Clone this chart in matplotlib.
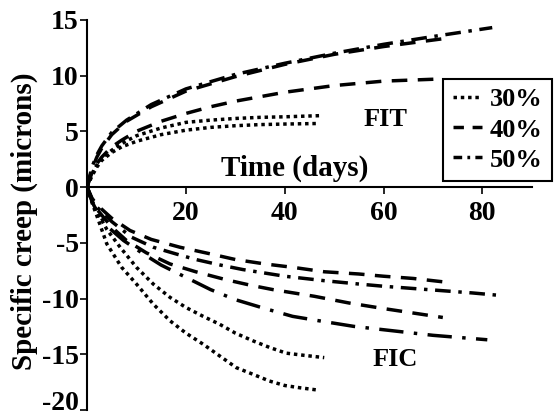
import matplotlib
matplotlib.use('Agg')
import matplotlib.pyplot as plt
from matplotlib.lines import Line2D

plt.rcParams['font.family'] = ['Liberation Serif', 'DejaVu Serif']
plt.rcParams['font.weight'] = 'bold'
plt.rcParams['axes.unicode_minus'] = False

# FIT (tension) curves
fit_30a_days = [0, 1, 2, 3, 5, 7, 10, 15, 20, 25, 30, 35, 40, 47]
fit_30a_vals = [0, 1.2, 2.0, 2.6, 3.3, 3.9, 4.6, 5.3, 5.8, 6.0, 6.15, 6.25, 6.3, 6.4]
fit_30b_days = [0, 1, 2, 3, 5, 7, 10, 15, 20, 25, 30, 35, 40, 47]
fit_30b_vals = [0, 1.0, 1.8, 2.4, 3.1, 3.6, 4.1, 4.7, 5.1, 5.35, 5.5, 5.6, 5.65, 5.7]
fit_40a_days = [0, 1, 2, 3, 5, 8, 13, 20, 30, 40, 50, 60, 72]
fit_40a_vals = [0, 1.6, 2.7, 3.5, 4.7, 5.9, 7.2, 8.6, 9.9, 11.0, 11.9, 12.6, 13.3]
fit_40b_days = [0, 1, 2, 3, 5, 7, 10, 15, 20, 25, 30, 40, 50, 60, 72]
fit_40b_vals = [0, 1.3, 2.1, 2.7, 3.6, 4.2, 5.0, 5.9, 6.6, 7.2, 7.7, 8.5, 9.1, 9.5, 9.7]
fit_50_days = [0, 1, 2, 3, 5, 8, 13, 20, 30, 40, 50, 60, 70, 82]
fit_50_vals = [0, 1.8, 2.9, 3.7, 4.9, 6.0, 7.4, 8.8, 10.1, 11.1, 12.0, 12.8, 13.5, 14.3]

# FIC (compression) curves
fic_30a_days = [0, 1, 2, 4, 6.7, 10, 13.4, 16.8, 20, 23.5, 26.8, 30, 33.6, 37, 40.3, 44, 48]
fic_30a_vals = [0, -1.2, -2.2, -3.8, -5.4, -7.2, -8.7, -9.9, -10.8, -11.6, -12.3, -13.1, -13.8, -14.4, -14.9, -15.1, -15.3]
fic_30b_days = [0, 1, 2, 4, 7, 10, 13.4, 16.8, 20, 23.5, 27, 30.2, 33.6, 36.9, 40, 43, 46.5]
fic_30b_vals = [0, -1.4, -2.6, -5.1, -7.2, -8.7, -10.5, -12.0, -13.1, -14.1, -15.2, -16.2, -16.8, -17.4, -17.8, -18.0, -18.2]
fic_40a_days = [0, 1, 2, 5, 8.7, 13, 18.8, 25, 30, 36, 41.6, 48, 55, 60, 66, 72]
fic_40a_vals = [0, -1.0, -1.6, -2.8, -3.9, -4.7, -5.4, -6.0, -6.5, -6.9, -7.2, -7.6, -7.8, -8.0, -8.2, -8.5]
fic_40b_days = [0, 1, 2, 5, 8, 12, 16.8, 22, 28, 33, 37.6, 46, 53, 60, 66, 72]
fic_40b_vals = [0, -1.2, -2.0, -3.6, -4.8, -5.9, -6.9, -7.6, -8.3, -8.8, -9.2, -9.8, -10.4, -10.9, -11.3, -11.7]
fic_50a_days = [0, 1, 2, 5, 9, 13.4, 18, 22, 27, 31.5, 40, 48, 55, 60, 66, 72, 78, 83]
fic_50a_vals = [0, -1.1, -1.8, -3.1, -4.5, -5.4, -6.0, -6.5, -7.0, -7.4, -8.0, -8.4, -8.7, -8.9, -9.1, -9.3, -9.5, -9.7]
fic_50b_days = [0, 1, 2, 4, 7.4, 11.4, 15, 20, 25, 30, 36, 41.6, 47, 54, 60, 70, 81]
fic_50b_vals = [0, -1.3, -2.2, -3.5, -4.8, -6.0, -7.0, -8.1, -9.2, -10.1, -10.9, -11.6, -12.0, -12.5, -12.8, -13.3, -13.7]

legend_labels = ['30%', '40%', '50%']

DOT = (0, (1, 1.1))
DASH = (0, (4.5, 3))
DASHDOT = (0, (4.5, 2.2, 1, 2.2))
LONGDASHDOT = (0, (7, 3, 1, 3))
LW = 2.5

fig = plt.figure(figsize=(5.58, 4.16), dpi=100)
ax = fig.add_axes([0.156, 0.0144, 0.797, 0.938])

ax.plot(fit_30a_days, fit_30a_vals, color='k', lw=LW, ls=DOT)
ax.plot(fit_30b_days, fit_30b_vals, color='k', lw=LW, ls=DOT)
ax.plot(fit_40a_days, fit_40a_vals, color='k', lw=LW, ls=DASH)
ax.plot(fit_40b_days, fit_40b_vals, color='k', lw=LW, ls=DASH)
ax.plot(fit_50_days, fit_50_vals, color='k', lw=LW, ls=DASHDOT)

ax.plot(fic_30a_days, fic_30a_vals, color='k', lw=LW, ls=DOT)
ax.plot(fic_30b_days, fic_30b_vals, color='k', lw=LW, ls=DOT)
ax.plot(fic_40a_days, fic_40a_vals, color='k', lw=LW, ls=DASH)
ax.plot(fic_40b_days, fic_40b_vals, color='k', lw=LW, ls=DASH)
ax.plot(fic_50a_days, fic_50a_vals, color='k', lw=LW, ls=DASHDOT)
ax.plot(fic_50b_days, fic_50b_vals, color='k', lw=LW, ls=LONGDASHDOT)

ax.set_xlim(0, 90)
ax.set_ylim(-20, 15)
ax.spines['left'].set_position(('data', 0))
ax.spines['bottom'].set_position(('data', 0))
ax.spines['top'].set_visible(False)
ax.spines['right'].set_visible(False)
for s in ('left', 'bottom'):
    ax.spines[s].set_linewidth(1.5)

ax.set_xticks([20, 40, 60, 80])
ax.set_yticks([-20, -15, -10, -5, 0, 5, 10, 15])
ax.tick_params(axis='both', direction='out', length=5, width=1.2, labelsize=20)
ax.tick_params(axis='x', pad=5)
ax.tick_params(axis='y', pad=1)
for lbl in ax.get_xticklabels() + ax.get_yticklabels():
    lbl.set_fontweight('bold')
# lowest label sits on its tick so it stays inside the figure
ax.get_yticklabels()[0].set_verticalalignment('baseline')

ax.set_ylabel('Specific creep (microns)', fontsize=21, fontweight='bold', labelpad=0)
ax.yaxis.set_label_coords(-0.11, 0.485)
ax.text(42, 1.7, 'Time (days)', fontsize=21, fontweight='bold', ha='center', va='center')
ax.text(60.4, 6.1, 'FIT', fontsize=19, fontweight='bold', ha='center', va='center')
ax.text(62.4, -15.5, 'FIC', fontsize=19, fontweight='bold', ha='center', va='center')

# shorter dash patterns so the short legend samples read like the reference
handles = [Line2D([], [], color='k', lw=LW, ls=(0, (1, 1.1))),
           Line2D([], [], color='k', lw=LW, ls=(0, (3, 2.5))),
           Line2D([], [], color='k', lw=LW, ls=(0, (2.5, 1.5, 0.8, 1.5)))]
leg = ax.legend(handles, legend_labels, loc='upper right', bbox_to_anchor=(1.045, 0.849),
                fancybox=False, framealpha=1, edgecolor='k', handlelength=1.1,
                handletextpad=0.3, borderpad=0.35, labelspacing=0.25, borderaxespad=0,
                prop={'size': 19, 'weight': 'bold'})
leg.get_frame().set_linewidth(1.5)

fig.savefig('out.png', dpi=100)
